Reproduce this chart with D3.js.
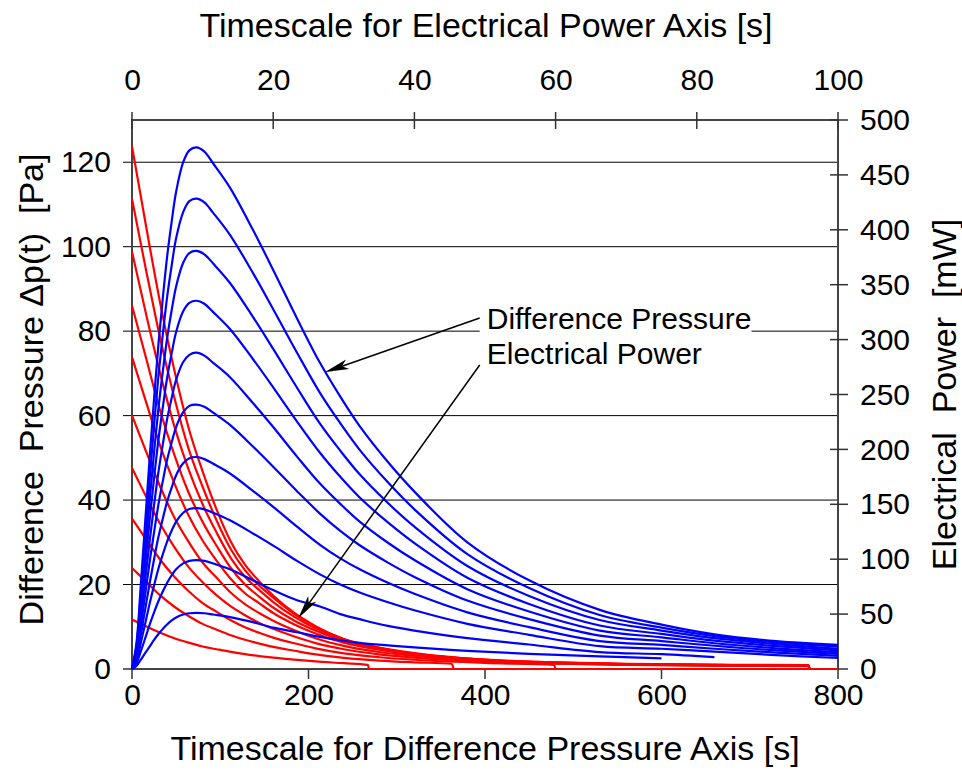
<!DOCTYPE html>
<html>

<head>
	<meta charset="utf-8">
	<script src="https://cdn.jsdelivr.net/npm/d3@7"></script>
	<style>
		body {
			margin: 0;
			background: #fff;
		}

		text {
			font-family: "Liberation Sans", Arial, sans-serif;
			fill: #000;
		}

		.tick text {
			font-size: 30px;
		}

		.title {
			font-size: 34px;
			white-space: pre;
		}

		.note {
			font-size: 30px;
		}

		.grid {
			stroke: #000;
			stroke-width: 1;
		}

		.frame {
			stroke: #444;
			stroke-width: 2;
			fill: none;
		}

		.dp {
			fill: none;
			stroke: #0000ff;
			stroke-width: 2.2;
		}

		.pw {
			fill: none;
			stroke: #ff0000;
			stroke-width: 2.2;
		}
	</style>
</head>

<body>
	<svg width="962" height="774"></svg>
	<script>

		// difference pressure curves [Pa], bottom time axis [s]
		var pressureTime = [0, 5, 10, 15, 20, 25, 30, 35, 40, 45, 50, 58, 65, 73, 82, 92, 111, 137, 160, 187, 213, 236, 258, 290, 320, 380, 450, 530, 600, 660, 730, 800];
		var dp1 = [0, 6, 20, 35, 50, 64, 77, 88, 98, 106, 113, 120, 122.8, 123.5, 122.5, 119.7, 114, 104, 94.5, 83, 72.5, 64.5, 57.5, 49, 42, 30, 21, 14, 10.5, 8.2, 6.6, 5.7];
		var dp2 = [0, 5.4, 18, 31.5, 45, 57.7, 69.5, 79.4, 88.4, 95.6, 102, 108.2, 110.8, 111.4, 110.5, 108, 102.8, 93.8, 85.2, 74.9, 65.4, 58.2, 51.9, 44.2, 37.8, 27.2, 19.2, 12.8, 9.8, 7.8, 6.3, 5.3];
		var dp3 = [0, 4.8, 16, 28, 40, 51.3, 61.8, 70.6, 78.6, 85, 90.6, 96.2, 98.5, 99, 98.2, 96, 91.4, 83.4, 75.8, 66.6, 58.1, 51.7, 46.1, 39.3, 33.7, 24.4, 17.3, 11.6, 9.1, 7.3, 5.9, 4.8];
		var dp4 = [0, 4.2, 14.1, 24.7, 35.3, 45.2, 54.4, 62.1, 69.2, 74.8, 79.8, 84.7, 86.7, 87.2, 86.5, 84.5, 80.5, 73.4, 66.7, 58.6, 51.2, 45.5, 40.6, 34.7, 29.8, 21.6, 15.4, 10.3, 8.3, 6.7, 5.4, 4.4];
		var dp5 = [0, 3.6, 12.1, 21.2, 30.3, 38.8, 46.7, 53.3, 59.4, 64.2, 68.5, 72.7, 74.4, 74.9, 74.2, 72.5, 69.1, 63, 57.3, 50.3, 43.9, 39.1, 34.9, 29.9, 25.8, 18.9, 13.6, 9.1, 7.5, 6.1, 4.9, 4];
		var dp6 = [0, 3, 10.1, 17.7, 25.4, 32.4, 39, 44.6, 49.7, 53.7, 57.3, 60.8, 62.3, 62.6, 62.1, 60.7, 57.8, 52.7, 47.9, 42.1, 36.8, 32.7, 29.3, 25.2, 21.8, 16.2, 11.8, 7.9, 6.6, 5.5, 4.4, 3.6];
		var dp7 = [0, 2.4, 8.1, 14.2, 20.3, 26, 31.3, 35.7, 39.8, 43, 45.9, 48.7, 49.9, 50.2, 49.7, 48.6, 46.3, 42.2, 38.4, 33.7, 29.4, 26.2, 23.6, 20.4, 17.8, 13.4, 9.9, 6.6, 5.7, 4.8, 3.9, 3.1];
		var dp8 = [0, 1.9, 6.2, 10.8, 15.5, 19.8, 23.8, 27.2, 30.3, 32.8, 34.9, 37, 37.9, 38.1, 37.8, 37, 35.2, 32.1, 29.2, 25.6, 22.4, 20, 18.1, 15.8, 13.9, 10.7, 8.1, 5.4, 4.8, 4.1, 3.3, 2.6];
		var dp9 = [0, 1.3, 4.2, 7.3, 10.5, 13.4, 16.1, 18.4, 20.5, 22.2, 23.6, 25, 25.6, 25.8, 25.6, 25, 23.6, 21, 18.7, 16.3, 14.8, 13, 11.8, 10.2, 9.1, 7.3, 5.8, 4, 3.5, 2.8];
		var dp10 = [0, 0.7, 2.2, 3.8, 5.3, 6.9, 8.3, 9.5, 10.6, 11.5, 12.2, 12.9, 13.2, 13.3, 13.2, 12.9, 12.3, 11.1, 9.8, 8.7, 7.6, 6.8, 6.2, 5.6, 5.1, 4.3, 3.6, 3, 2.5];

		// electrical power curves [mW], top time axis [s]
		var powerTime = [0, 2, 4, 6, 8, 10, 12, 14, 16, 18, 20, 23, 26, 30, 35, 40];
		var pw1 = [476, 403, 333, 272, 220, 180, 145, 116, 95, 80, 67, 51, 39, 27, 19, 13.5];
		var pw2 = [428, 363, 301, 247, 201, 166, 135, 109, 90, 76, 65, 50, 38.5, 27.4, 19.3, 14.1];
		var pw3 = [380, 323, 269, 221, 182, 150, 124, 101, 84, 72, 61, 47.5, 37, 27, 19.4, 14.4];
		var pw4 = [331, 283, 235, 195, 161, 134, 112, 92, 77, 66, 56, 44, 35, 25.5, 18.5, 13.9];
		var pw5 = [284, 243, 203, 169, 140, 117, 98.5, 82, 69, 60, 51, 40.6, 32.4, 23.9, 17.6, 13.3];
		var pw6 = [231, 198, 166, 138, 116, 97, 83, 69.5, 59, 51, 44, 35.3, 28, 21, 15.5, 12];
		var pw7 = [183, 157, 132, 111, 93, 79, 67, 57, 49, 42, 36.6, 29.6, 23.6, 18, 13.4, 10.4];
		var pw8 = [137, 118, 99.5, 84, 71, 60, 52, 44.4, 38, 33, 28.6, 23.4, 18.8, 14.2, 10.7, 8.4];
		var pw9 = [92, 79.6, 67, 56.7, 48.3, 41.1, 35.8, 30.8, 26.6, 23.2, 20.1, 16.6, 13.3, 10.2, 7.7, 6.1];
		var pw10 = [45, 39, 33, 28, 24, 20.5, 18, 15.6, 13.5, 11.8, 10.3, 8.5, 6.9, 5.3];
		// end of each record: [time, power] points after the common part
		var pwTail1 = [[50, 8.5], [60, 6], [70, 4.6], [85, 3.8], [95.8, 3.5], [96, 0], [100, 0]];
		var pwTail2 = [[50, 8.4], [60, 5.9], [70, 4.5], [85, 3.6], [95.8, 3.3], [96, 0], [100, 0]];
		var pwTail3 = [[50, 8.3], [60, 5.8], [70, 4.4], [85, 3.4], [95.8, 3.1], [96, 0], [100, 0]];
		var pwTail4 = [[50, 8], [60, 5.6], [70, 4.3], [85, 3.3], [95.8, 3], [96, 0], [100, 0]];
		var pwTail5 = [[50, 7.7], [60, 5.4], [70, 4.1], [85, 3.2], [95.8, 2.9], [96, 0], [100, 0]];
		var pwTail6 = [[50, 7.2], [60, 5.2], [70, 4], [85, 3.1], [95.8, 2.8], [96, 0], [100, 0]];
		var pwTail7 = [[50, 6.8], [60, 4.8], [70, 3.8], [85, 3], [95.8, 2.6], [96, 0], [100, 0]];
		var pwTail8 = [[50, 5.5], [59.8, 3.8], [60, 0], [100, 0]];
		var pwTail9 = [[45.3, 4.8], [45.6, 0], [100, 0]];
		var pwTail10 = [[33.4, 3.8], [33.6, 0], [100, 0]];

		// axes
		var pressureTicks = [0, 20, 40, 60, 80, 100, 120];
		var powerTicks = [0, 50, 100, 150, 200, 250, 300, 350, 400, 450, 500];
		var timeTicks = [0, 200, 400, 600, 800];
		var powerTimeTicks = [0, 20, 40, 60, 80, 100];

		var margins = { "left": 132, "right": 124, "top": 120, "bottom": 105 };
		var width = 962 - margins.left - margins.right;
		var height = 774 - margins.top - margins.bottom;

		var x = d3.scaleLinear().domain([0, 800]).range([margins.left, margins.left + width]);
		var xTop = d3.scaleLinear().domain([0, 100]).range([margins.left, margins.left + width]);
		var y = d3.scaleLinear().domain([0, 130]).range([margins.top + height, margins.top]);
		var yRight = d3.scaleLinear().domain([0, 500]).range([margins.top + height, margins.top]);

		var svg = d3.select("svg");
		var x0 = x.range()[0], x1 = x.range()[1];
		var yb = y.range()[0], yt = y.range()[1];

		// grid lines (they run out as the left ticks)
		svg.append("g")
			.selectAll("line")
			.data(pressureTicks.slice(1))
			.enter()
			.append("line")
			.attr("class", "grid")
			.attr("x1", x0 - 9)
			.attr("x2", x1)
			.attr("y1", d => y(d))
			.attr("y2", d => y(d));

		// note box with annotation text
		var note = svg.append("g");
		note.append("rect")
			.attr("x", x(394))
			.attr("y", y(87.5))
			.attr("width", x(702) - x(394))
			.attr("height", y(70) - y(87.5))
			.attr("fill", "#fff");
		note.append("text")
			.attr("class", "note")
			.attr("x", x(402))
			.attr("y", y(80.6))
			.text("Difference Pressure");
		note.append("text")
			.attr("class", "note")
			.attr("x", x(402))
			.attr("y", y(72.3))
			.text("Electrical Power");

		// frame
		svg.append("rect")
			.attr("class", "frame")
			.attr("x", x0)
			.attr("y", yt)
			.attr("width", x1 - x0)
			.attr("height", yb - yt);

		// ticks
		var ticks = svg.append("g").attr("stroke", "#333").attr("stroke-width", 1.5);
		ticks.selectAll(".tt")
			.data(powerTimeTicks)
			.enter()
			.append("line")
			.attr("x1", d => xTop(d)).attr("x2", d => xTop(d))
			.attr("y1", yt - 8).attr("y2", yt + 9);
		ticks.selectAll(".tb")
			.data(timeTicks)
			.enter()
			.append("line")
			.attr("x1", d => x(d)).attr("x2", d => x(d))
			.attr("y1", yb).attr("y2", yb + 10);
		ticks.selectAll(".tr")
			.data(powerTicks)
			.enter()
			.append("line")
			.attr("x1", x1 - 8).attr("x2", x1 + 10)
			.attr("y1", d => yRight(d)).attr("y2", d => yRight(d));
		ticks.append("line")
			.attr("x1", x0 - 9).attr("x2", x0)
			.attr("y1", y(0)).attr("y2", y(0));

		// tick labels
		function labels(g) {
			g.select(".domain").remove();
			g.attr("font-size", null).attr("font-family", null);
		}
		svg.append("g")
			.attr("transform", "translate(0," + yt + ")")
			.call(d3.axisTop(xTop).tickValues(powerTimeTicks).tickSize(0).tickPadding(30))
			.call(labels);
		svg.append("g")
			.attr("transform", "translate(0," + yb + ")")
			.call(d3.axisBottom(x).tickValues(timeTicks).tickSize(0).tickPadding(15))
			.call(labels);
		svg.append("g")
			.attr("transform", "translate(" + x0 + ",0)")
			.call(d3.axisLeft(y).tickValues(pressureTicks).tickSize(0).tickPadding(21))
			.call(labels);
		svg.append("g")
			.attr("transform", "translate(" + x1 + ",0)")
			.call(d3.axisRight(yRight).tickValues(powerTicks).tickSize(0).tickPadding(22))
			.call(labels);

		// titles
		svg.append("text")
			.attr("class", "title")
			.attr("x", (x0 + x1) / 2 + 1)
			.attr("y", 37)
			.attr("text-anchor", "middle")
			.text("Timescale for Electrical Power Axis [s]");
		svg.append("text")
			.attr("class", "title")
			.attr("x", (x0 + x1) / 2)
			.attr("y", 760)
			.attr("text-anchor", "middle")
			.text("Timescale for Difference Pressure Axis [s]");
		svg.append("text")
			.attr("class", "title")
			.attr("transform", "translate(43," + ((yt + yb) / 2 - 5) + ") rotate(-90)")
			.attr("text-anchor", "middle")
			.text("Difference  Pressure \u0394p(t)  [Pa]");
		svg.append("text")
			.attr("class", "title")
			.attr("transform", "translate(956," + ((yt + yb) / 2) + ") rotate(-90)")
			.attr("text-anchor", "middle")
			.text("Electrical  Power  [mW]");

		// curves
		var pressureSeries = [dp1, dp2, dp3, dp4, dp5, dp6, dp7, dp8, dp9, dp10]
			.map(v => v.map((d, i) => [pressureTime[i], d]));
		var powerSeries = [[pw1, pwTail1], [pw2, pwTail2], [pw3, pwTail3], [pw4, pwTail4], [pw5, pwTail5],
		[pw6, pwTail6], [pw7, pwTail7], [pw8, pwTail8], [pw9, pwTail9], [pw10, pwTail10]]
			.map(s => s[0].map((d, i) => [powerTime[i], d]).concat(s[1]));

		var pressureLine = d3.line()
			.x(d => x(d[0]))
			.y(d => y(d[1]))
			.curve(d3.curveCatmullRom.alpha(0.5));
		var powerLine = d3.line()
			.x(d => xTop(d[0]))
			.y(d => yRight(d[1]))
			.curve(d3.curveMonotoneX);

		svg.append("g")
			.selectAll("path")
			.data(powerSeries)
			.enter()
			.append("path")
			.attr("class", "pw")
			.attr("d", powerLine);
		svg.append("g")
			.selectAll("path")
			.data(pressureSeries)
			.enter()
			.append("path")
			.attr("class", "dp")
			.attr("d", pressureLine);

		// arrows from the note to the curves
		var arrows = [
			{ from: [394, 83.1], to: [218.7, 70.3] },
			{ from: [394, 72], to: [188.4, 12] }
		];
		var arrowG = svg.append("g");
		arrows.forEach(a => {
			var sx = x(a.from[0]), sy = y(a.from[1]);
			var tx = x(a.to[0]), ty = y(a.to[1]);
			var ang = Math.atan2(ty - sy, tx - sx);
			var len = 24, half = 5;
			var bx = tx - len * Math.cos(ang), by = ty - len * Math.sin(ang);
			var nx = -Math.sin(ang) * half, ny = Math.cos(ang) * half;
			var mx = tx - 18 * Math.cos(ang), my = ty - 18 * Math.sin(ang);
			arrowG.append("line")
				.attr("x1", sx).attr("y1", sy)
				.attr("x2", mx).attr("y2", my)
				.attr("stroke", "#000")
				.attr("stroke-width", 1.5);
			arrowG.append("path")
				.attr("d", "M" + tx + "," + ty + "L" + (bx + nx) + "," + (by + ny) + "L" + mx + "," + my + "L" + (bx - nx) + "," + (by - ny) + "Z")
				.attr("fill", "#000");
		});
	</script>
</body>

</html>
